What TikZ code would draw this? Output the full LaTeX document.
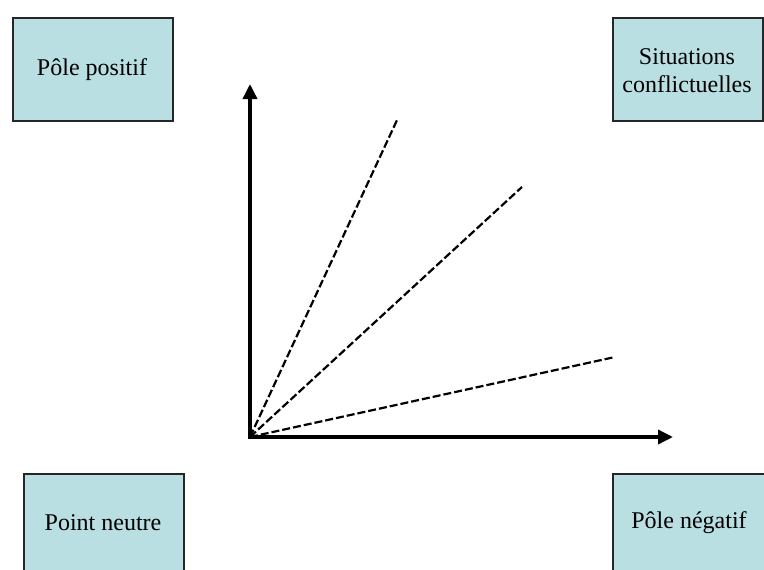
\documentclass[tikz,border=0pt]{standalone}
\usepackage{fontspec}
\setmainfont{Liberation Serif}
\usetikzlibrary{arrows.meta}
\definecolor{boxfill}{RGB}{186,223,227}
\begin{document}
\begin{tikzpicture}[x=1pt,y=-1pt,
  lbl/.style={font=\fontsize{24}{28}\selectfont,align=center},
  lbox/.style={draw=black!85,line width=2pt,fill=boxfill},
  axis/.style={line width=3.5pt,-{Triangle[length=15pt,width=14pt]}},
  ray/.style={line width=2.2pt,dash pattern=on 8pt off 3pt}]
\useasboundingbox (0,0) rectangle (764,570);
\begin{scope}
\clip (0,0) rectangle (764,570);
\node[lbox,minimum width=160pt,minimum height=103pt,anchor=north west] (pp) at (12,17) {};
\node[lbox,minimum width=150pt,minimum height=103pt,anchor=north west] (sc) at (612,17) {};
\node[lbox,minimum width=160pt,minimum height=130pt,anchor=north west] (pn) at (23,473) {};
\node[lbox,minimum width=160pt,minimum height=130pt,anchor=north west] (pg) at (612,473) {};
\end{scope}
\node[lbl] (ppt) at (92,70) {Pôle positif};
\node[lbl] (sct) at (687,71) {Situations\\conflictuelles};
\node[lbl] (pnt) at (103,523) {Point neutre};
\node[lbl] (pgt) at (689,523) {Pôle négatif};
\coordinate (o) at (250,437);
\coordinate (ytip) at (250,84);
\coordinate (xtip) at (673,437);
\coordinate (r1) at (398,118);
\coordinate (r2) at (522,187);
\coordinate (r3) at (615,357);
\draw[ray] (o) -- (r1);
\draw[ray] (o) -- (r2);
\draw[ray] (o) -- (r3);
\draw[axis] ([yshift=1.75pt]o) -- (ytip);
\draw[axis] ([xshift=-1.75pt]o) -- (xtip);
\end{tikzpicture}
\end{document}
